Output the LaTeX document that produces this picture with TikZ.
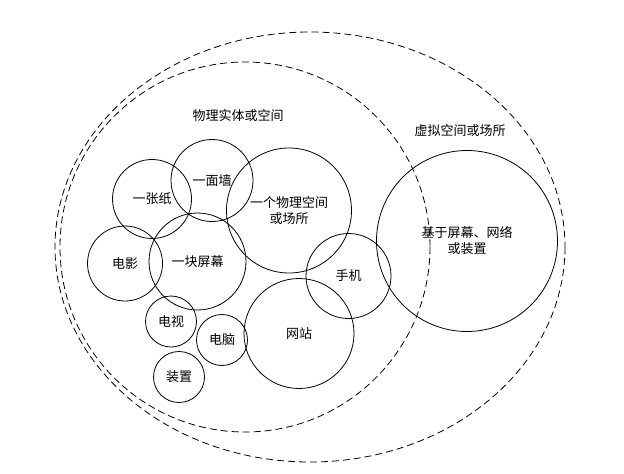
\documentclass[tikz,border=0pt]{standalone}
\usepackage{fontspec}
\newfontfamily\cjk{Noto Sans CJK SC}
\begin{document}
\begin{tikzpicture}[x=1pt,y=-1pt,
  every node/.style={font=\cjk\fontsize{13}{16}\selectfont},
  set/.style={circle,draw=black,line width=0.8pt,inner sep=0pt,align=center},
  region/.style={draw=black,line width=0.8pt,dash pattern=on 7pt off 4pt},
  lbl/.style={inner sep=0pt}]
\useasboundingbox (0,0) rectangle (624,474);
% dashed regions
\draw[region] (310,247) ellipse [x radius=255, y radius=215];
\draw[region] (245,247) ellipse [x radius=185, y radius=185];
\node[lbl] (phys) at (238,116) {物理实体或空间};
\node[lbl] (virt) at (460,131) {虚拟空间或场所};
% circles
\node[set,minimum size=79pt] (paper) at (152,199) {一张纸};
\node[set,minimum size=82pt] (wall) at (212,180.5) {一面墙};
\node[set,minimum size=125pt] (space) at (289,210.5) {一个物理空间\\或场所};
\node[set,minimum size=75pt] (film) at (125,263.5) {电影};
\node[set,minimum size=97pt] (screen) at (197.5,261.5) {一块屏幕};
\node[set,minimum size=85pt] (phone) at (348.5,276) {手机};
\node[set,minimum size=181pt] (based) at (467,241) {基于屏幕、网络\\或装置};
\node[set,minimum size=110pt] (site) at (299,333.5) {网站};
\node[set,minimum size=51pt] (tv) at (171,321.5) {电视};
\node[set,minimum size=51pt] (pc) at (222,340) {电脑};
\node[set,minimum size=51pt] (dev) at (179,377) {装置};
\end{tikzpicture}
\end{document}
